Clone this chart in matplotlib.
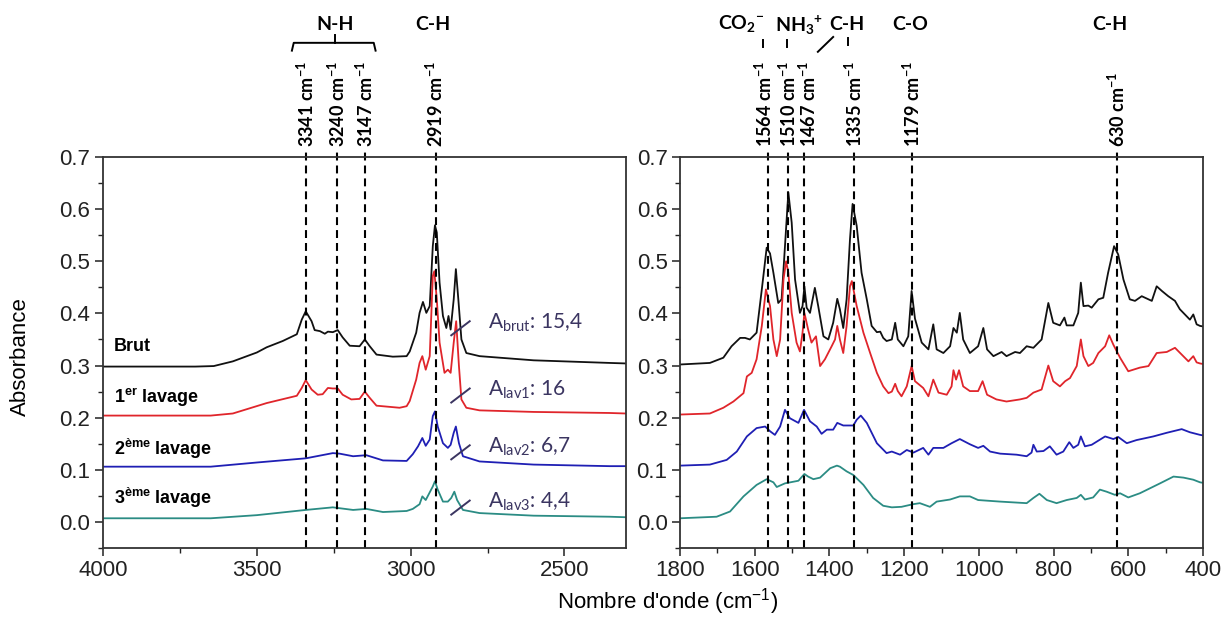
import matplotlib
matplotlib.use("Agg")
import matplotlib.pyplot as plt
from matplotlib.ticker import MultipleLocator

plt.rcParams['font.family'] = ['Liberation Sans', 'DejaVu Sans']

# ---- data (wavenumber cm-1, absorbance) ----
# high wavenumber region (4000-2300)
brut_hi_x = [4000, 3700, 3640, 3578, 3500, 3468, 3416, 3370, 3354, 3341, 3322, 3312, 3295, 3279,
             3269, 3253, 3237, 3221, 3198, 3166, 3149, 3133, 3111, 3058, 3013, 3003, 2982, 2971,
             2960, 2949, 2938, 2928, 2921, 2915, 2906, 2895, 2884, 2877, 2870, 2860, 2853, 2845,
             2835, 2819, 2776, 2600, 2354, 2300]
brut_hi_y = [.298, .298, .299, .308, .325, .335, .347, .360, .388, .404, .385, .368, .366, .361,
             .365, .364, .368, .354, .338, .337, .350, .337, .321, .317, .318, .327, .363, .401,
             .422, .401, .414, .529, .569, .555, .459, .395, .372, .395, .369, .427, .485, .427,
             .350, .324, .318, .310, .305, .304]

lav1_hi_x = [4000, 3650, 3578, 3468, 3370, 3354, 3341, 3322, 3302, 3286, 3269, 3253, 3237, 3221,
             3193, 3166, 3149, 3133, 3111, 3036, 3013, 3003, 2982, 2971, 2962, 2951, 2938, 2928,
             2923, 2915, 2906, 2890, 2879, 2870, 2860, 2852, 2843, 2835, 2819, 2776, 2600, 2354,
             2300]
lav1_hi_y = [.204, .204, .208, .228, .242, .257, .272, .254, .244, .245, .257, .256, .256, .244,
             .235, .236, .250, .238, .223, .219, .222, .232, .273, .305, .318, .292, .318, .472,
             .481, .427, .344, .286, .292, .286, .344, .385, .299, .235, .219, .214, .211, .209,
             .208]

lav2_hi_x = [4000, 3650, 3500, 3341, 3253, 3231, 3187, 3144, 3090, 3013, 2993, 2976, 2962, 2951,
             2938, 2928, 2921, 2912, 2895, 2879, 2870, 2860, 2853, 2843, 2830, 2776, 2600, 2354,
             2300]
lav2_hi_y = [.106, .106, .114, .122, .132, .131, .126, .128, .118, .117, .130, .145, .161, .146,
             .158, .203, .212, .183, .151, .142, .148, .171, .183, .151, .126, .116, .110, .107,
             .107]

lav3_hi_x = [4000, 3650, 3500, 3341, 3253, 3187, 3144, 3090, 3013, 2993, 2971, 2962, 2951, 2928,
             2921, 2912, 2895, 2879, 2868, 2858, 2849, 2830, 2776, 2600, 2354, 2300]
lav3_hi_y = [.007, .007, .013, .023, .028, .023, .025, .019, .021, .025, .034, .049, .042, .068,
             .078, .062, .039, .039, .046, .058, .042, .023, .017, .012, .010, .009]

# low wavenumber region (1800-400)
brut_lo_x = [1800, 1720, 1684, 1662, 1639, 1626, 1613, 1595, 1581, 1568, 1559, 1550, 1537, 1528,
             1519, 1510, 1501, 1492, 1479, 1472, 1467, 1461, 1452, 1439, 1430, 1416, 1403, 1390,
             1379, 1372, 1363, 1354, 1345, 1338, 1327, 1314, 1300, 1287, 1273, 1264, 1256, 1247,
             1233, 1224, 1217, 1202, 1189, 1180, 1171, 1153, 1135, 1122, 1113, 1095, 1077, 1068,
             1059, 1051, 1042, 1024, 1002, 988, 978, 961, 939, 926, 903, 890, 872, 854, 832, 814,
             801, 783, 771, 765, 747, 734, 727, 720, 707, 698, 680, 667, 654, 638, 627, 613, 596,
             582, 564, 537, 524, 510, 493, 475, 462, 435, 426, 417, 408, 400]
brut_lo_y = [.302, .305, .315, .337, .353, .353, .350, .363, .446, .526, .515, .478, .420, .427,
             .529, .632, .574, .465, .401, .414, .452, .411, .401, .449, .414, .356, .350, .382,
             .428, .408, .372, .427, .542, .610, .568, .478, .427, .376, .364, .365, .353, .347,
             .350, .382, .350, .337, .356, .443, .390, .344, .331, .379, .331, .324, .337, .372,
             .363, .401, .350, .324, .337, .372, .331, .318, .326, .318, .326, .324, .337, .334,
             .350, .420, .382, .377, .392, .377, .377, .401, .459, .414, .415, .411, .427, .430,
             .478, .529, .513, .465, .427, .424, .433, .424, .452, .443, .433, .424, .408, .388,
             .398, .379, .376, .375]

lav1_lo_x = [1800, 1720, 1684, 1657, 1630, 1621, 1608, 1595, 1581, 1570, 1559, 1550, 1541, 1532,
             1523, 1516, 1510, 1501, 1488, 1479, 1472, 1467, 1457, 1448, 1436, 1425, 1412, 1394,
             1385, 1379, 1372, 1363, 1354, 1345, 1340, 1327, 1309, 1291, 1273, 1256, 1242, 1233,
             1224, 1217, 1207, 1193, 1180, 1171, 1149, 1135, 1122, 1108, 1086, 1073, 1068, 1061,
             1053, 1042, 1024, 1002, 990, 978, 953, 926, 890, 872, 854, 832, 814, 801, 783, 769,
             756, 738, 727, 720, 707, 694, 680, 662, 651, 640, 622, 600, 569, 546, 524, 497, 475,
             457, 439, 426, 417, 408, 400]
lav1_lo_y = [.206, .208, .219, .231, .247, .279, .286, .312, .376, .446, .414, .350, .318, .350,
             .465, .500, .478, .401, .344, .327, .363, .401, .369, .344, .356, .299, .312, .337,
             .350, .376, .350, .324, .376, .452, .462, .414, .363, .324, .286, .260, .247, .250,
             .265, .251, .241, .260, .299, .270, .257, .241, .273, .248, .244, .260, .291, .273,
             .291, .260, .251, .251, .270, .244, .235, .231, .235, .238, .248, .254, .300, .270,
             .260, .270, .276, .299, .350, .318, .299, .305, .324, .337, .358, .340, .315, .289,
             .296, .299, .324, .326, .334, .321, .308, .318, .306, .304, .303]

lav2_lo_x = [1800, 1720, 1675, 1648, 1621, 1595, 1572, 1559, 1546, 1532, 1519, 1506, 1483, 1468,
             1452, 1434, 1421, 1407, 1390, 1379, 1363, 1336, 1327, 1316, 1300, 1273, 1247, 1233,
             1211, 1193, 1175, 1149, 1135, 1122, 1095, 1073, 1051, 1024, 1002, 988, 970, 943, 899,
             872, 859, 854, 845, 827, 810, 792, 774, 758, 747, 734, 727, 716, 698, 662, 640, 627,
             604, 578, 533, 497, 457, 435, 408, 400]
lav2_lo_y = [.108, .110, .119, .135, .164, .180, .183, .174, .167, .183, .215, .199, .190, .215,
             .193, .183, .169, .177, .177, .190, .185, .185, .196, .204, .190, .151, .132, .135,
             .129, .138, .133, .142, .129, .142, .142, .151, .159, .149, .142, .146, .135, .131,
             .129, .126, .133, .148, .135, .136, .145, .129, .135, .153, .142, .148, .164, .145,
             .148, .164, .159, .163, .151, .157, .164, .171, .178, .172, .167, .166]

lav3_lo_x = [1800, 1702, 1666, 1630, 1595, 1568, 1550, 1541, 1519, 1483, 1467, 1457, 1443, 1425,
             1398, 1380, 1372, 1354, 1336, 1309, 1283, 1256, 1233, 1207, 1176, 1158, 1131, 1113,
             1077, 1051, 1024, 1002, 943, 872, 854, 838, 818, 792, 765, 738, 727, 716, 694, 676,
             658, 636, 622, 600, 569, 515, 479, 452, 426, 408, 400]
lav3_lo_y = [.007, .010, .020, .049, .071, .082, .076, .067, .074, .079, .092, .087, .082, .085,
             .103, .108, .106, .097, .090, .071, .046, .031, .028, .029, .034, .036, .029, .039,
             .043, .049, .049, .042, .039, .036, .046, .054, .042, .036, .042, .046, .052, .043,
             .047, .062, .058, .052, .055, .047, .055, .074, .087, .085, .081, .076, .075]

series_names = ['Brut', '1$^\\mathregular{er}$ lavage', '2$^\\mathregular{ème}$ lavage',
                '3$^\\mathregular{ème}$ lavage']
series_colors = ['#111111', '#e0252b', '#1f1fb4', '#2b8c84']
series_label_y = [0.337, 0.238, 0.140, 0.046]

area_labels = ['brut', 'lav1', 'lav2', 'lav3']
area_values = ['15,4', '16', '6,7', '4,4']
area_y = [0.383, 0.254, 0.145, 0.039]

peaks_hi = [3341, 3240, 3147, 2919]
peaks_lo = [1564, 1510, 1467, 1335, 1179, 630]

hi = [(brut_hi_x, brut_hi_y), (lav1_hi_x, lav1_hi_y), (lav2_hi_x, lav2_hi_y), (lav3_hi_x, lav3_hi_y)]
lo = [(brut_lo_x, brut_lo_y), (lav1_lo_x, lav1_lo_y), (lav2_lo_x, lav2_lo_y), (lav3_lo_x, lav3_lo_y)]

# the three crowded labels are spread a little (points), as in the original figure
label_shift = {1564: -2.5, 1467: 3}

W, H = 1221, 634
fig = plt.figure(figsize=(W / 100, H / 100), dpi=100)
ax1 = fig.add_axes([103 / W, 1 - 548 / H, 523 / W, 391 / H])
ax2 = fig.add_axes([680 / W, 1 - 548 / H, 523 / W, 391 / H])

for (x, y), c in zip(hi, series_colors):
    ax1.plot(x, y, color=c, lw=1.3)
for (x, y), c in zip(lo, series_colors):
    ax2.plot(x, y, color=c, lw=1.3)

ax1.set_xlim(4000, 2300)
ax2.set_xlim(1800, 400)
ax1.xaxis.set_major_locator(MultipleLocator(500))
ax1.xaxis.set_minor_locator(MultipleLocator(250))
ax2.xaxis.set_major_locator(MultipleLocator(200))
ax2.xaxis.set_minor_locator(MultipleLocator(100))

for ax in (ax1, ax2):
    ax.set_ylim(-0.05, 0.7)
    ax.yaxis.set_major_locator(MultipleLocator(0.1))
    ax.yaxis.set_minor_locator(MultipleLocator(0.05))
    ax.yaxis.set_major_formatter(plt.FormatStrFormatter('%.1f'))
    ax.tick_params(which='major', direction='out', length=6, width=1.1, labelsize=16,
                   colors='#222222', pad=3)
    ax.tick_params(which='minor', direction='out', length=3.5, width=1.0, colors='#222222')
    for s in ax.spines.values():
        s.set_linewidth(1.3)
        s.set_color('#333333')

# dashed peak markers and rotated wavenumber labels
dash = (0, (3.8, 2.4))
for ax, peaks in ((ax1, peaks_hi), (ax2, peaks_lo)):
    tr = ax.get_xaxis_transform()
    for p in peaks:
        ax.plot([p, p], [0, 1.02], transform=tr, color='k', ls=dash, lw=1.5, clip_on=False)
        ax.annotate(f"{p} cm$^\\mathregular{{-1}}$", xy=(p, 1.0), xycoords=tr,
                    xytext=(label_shift.get(p, 0), 7), textcoords='offset points', rotation=90,
                    ha='center', va='bottom', family='Lato', fontweight='bold', fontsize=13)

# series labels on the left panel
for name, ly in zip(series_names, series_label_y):
    ax1.text(3965, ly, name, fontsize=13, fontweight='bold', va='center', ha='left')

# band areas with slash marks
acol = '#3b3561'
for lab, val, ay in zip(area_labels, area_values, area_y):
    ax1.plot([2868, 2808], [ay - 0.025, ay + 0.002], color=acol, lw=1.4)
    ax1.text(2750, ay, f"A$_\\mathregular{{{lab}}}$: {val}", color=acol, family='Lato',
             fontsize=15, va='center', ha='left')

# group labels above the panels
tr1 = ax1.get_xaxis_transform()
tr2 = ax2.get_xaxis_transform()
gkw = dict(family='Lato', fontweight='bold', fontsize=14, ha='center', va='center')
ax1.text(3247, 1.338, 'N-H', transform=tr1, **gkw)
ax1.text(2929, 1.338, 'C-H', transform=tr1, **gkw)
ax2.text(1637, 1.338, 'CO$_\\mathregular{2}$$^\\mathregular{-}$', transform=tr2, **gkw)
ax2.text(1480, 1.338, 'NH$_\\mathregular{3}$$^\\mathregular{+}$', transform=tr2, **gkw)
ax2.text(1353, 1.338, 'C-H', transform=tr2, **gkw)
ax2.text(1184, 1.338, 'C-O', transform=tr2, **gkw)
ax2.text(649, 1.338, 'C-H', transform=tr2, **gkw)

# bracket for N-H
bk = dict(color='k', lw=1.4, clip_on=False)
ax1.plot([3386, 3380, 3120, 3114], [1.272, 1.292, 1.292, 1.272], transform=tr1, **bk)
ax1.plot([3247, 3247], [1.292, 1.311], transform=tr1, **bk)
# connectors on the right panel
ax2.plot([1578, 1578], [1.281, 1.299], transform=tr2, **bk)
ax2.plot([1514, 1514], [1.281, 1.299], transform=tr2, **bk)
ax2.plot([1390, 1431], [1.307, 1.269], transform=tr2, **bk)
ax2.plot([1350, 1350], [1.286, 1.304], transform=tr2, **bk)

fig.text(20 / W, 1 - 357 / H, 'Absorbance', rotation=90, ha='center', va='center', fontsize=16)
fig.text(668 / W, 1 - 602 / H, "Nombre d'onde (cm$^\\mathregular{-1}$)", ha='center',
         va='center', fontsize=16)

fig.savefig('out.png', dpi=100)
